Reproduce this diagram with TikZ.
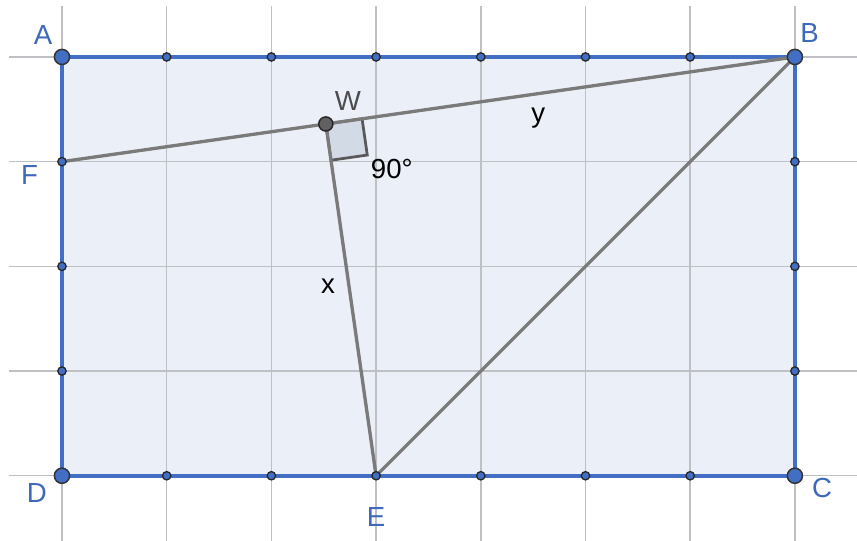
\documentclass[tikz,border=0pt]{standalone}
\usepackage{fontspec}
\setmainfont{Liberation Sans}
\usetikzlibrary{calc}
\definecolor{ptblue}{RGB}{66,110,196}
\definecolor{lblblue}{RGB}{62,104,186}
\definecolor{rectfill}{RGB}{235,240,248}
\definecolor{seggray}{RGB}{122,122,122}
\definecolor{gridgray}{RGB}{190,192,196}
\definecolor{angfill}{RGB}{210,218,230}

\begin{document}
\begin{tikzpicture}[
		every node/.style={font=\fontsize{7.5}{9}\selectfont},
		gridline/.style={draw=gridgray, line width=0.4pt},
		border/.style={draw=ptblue, line width=0.95pt, line join=miter},
		seg/.style={draw=seggray, line width=0.9pt},
		bigpt/.style={circle, draw=black!80, fill=ptblue, line width=0.4pt, minimum size=1.45mm, inner sep=0pt},
		smallpt/.style={circle, draw=black!85, fill=ptblue, line width=0.35pt, minimum size=0.8mm, inner sep=0pt},
		wpt/.style={circle, draw=black!85, fill=black!62, line width=0.4pt, minimum size=1.35mm, inner sep=0pt},
		ptlabel/.style={text=lblblue},
		seglabel/.style={text=black}
		]
		\useasboundingbox (-0.592,-0.621) rectangle (7.593,4.544);
		
		% --- Corner and side points ---
		\coordinate (D) at (0,0);
		\coordinate (C) at (7,0);
		\coordinate (B) at (7,4);
		\coordinate (A) at (0,4);
		\coordinate (F) at (0,3);
		\coordinate (E) at (3,0);
		\coordinate (W) at ($(F)!(E)!(B)$);
		
		% --- Rectangle fill, grid on top ---
		\fill[rectfill] (A) rectangle (C);
		\foreach \y in {0,...,4}
			\draw[gridline] (-0.506,\y) -- (7.593,\y);
		\foreach \x in {0,...,7}
			\draw[gridline] (\x,-0.621) -- (\x,4.487);
		\draw[border] (A) -- (B) -- (C) -- (D) -- cycle;
		
		% --- Right angle mark at W ---
		\coordinate (wb) at ($(W)!0.35cm!(B)$);
		\coordinate (we) at ($(W)!0.35cm!(E)$);
		\coordinate (wc) at ($(wb)+(we)-(W)$);
		\filldraw[fill=angfill, draw=black!65, line width=0.75pt] (W) -- (wb) -- (wc) -- (we) -- cycle;
		
		% --- Segments ---
		\draw[seg] (F) -- (B);
		\draw[seg] (W) -- (E);
		\draw[seg] (E) -- (B);
		
		% --- Lattice points on the sides ---
		\foreach \x in {1,...,6} {
			\node[smallpt] (top\x) at (\x,4) {};
			\node[smallpt] (bot\x) at (\x,0) {};
		}
		\foreach \y in {1,2,3} {
			\node[smallpt] (lft\y) at (0,\y) {};
			\node[smallpt] (rgt\y) at (7,\y) {};
		}
		\node[bigpt] (ptA) at (A) {};
		\node[bigpt] (ptB) at (B) {};
		\node[bigpt] (ptC) at (C) {};
		\node[bigpt] (ptD) at (D) {};
		\node[wpt] (ptW) at (W) {};
		
		% --- Labels ---
		\node[ptlabel] (labA) at (-0.18,4.21) {A};
		\node[ptlabel] (labB) at (7.14,4.23) {B};
		\node[ptlabel] (labC) at (7.26,-0.115) {C};
		\node[ptlabel] (labD) at (-0.24,-0.16) {D};
		\node[ptlabel] (labE) at (3,-0.39) {E};
		\node[ptlabel] (labF) at (-0.31,2.87) {F};
		\node[text=black!70] (labW) at (2.73,3.58) {W};
		\node[seglabel] (laby) at (4.55,3.42) {y};
		\node[seglabel] (labx) at (2.54,1.81) {x};
		\node[seglabel] (lab90) at (3.15,2.93) {90°};
	\end{tikzpicture}
\end{document}
